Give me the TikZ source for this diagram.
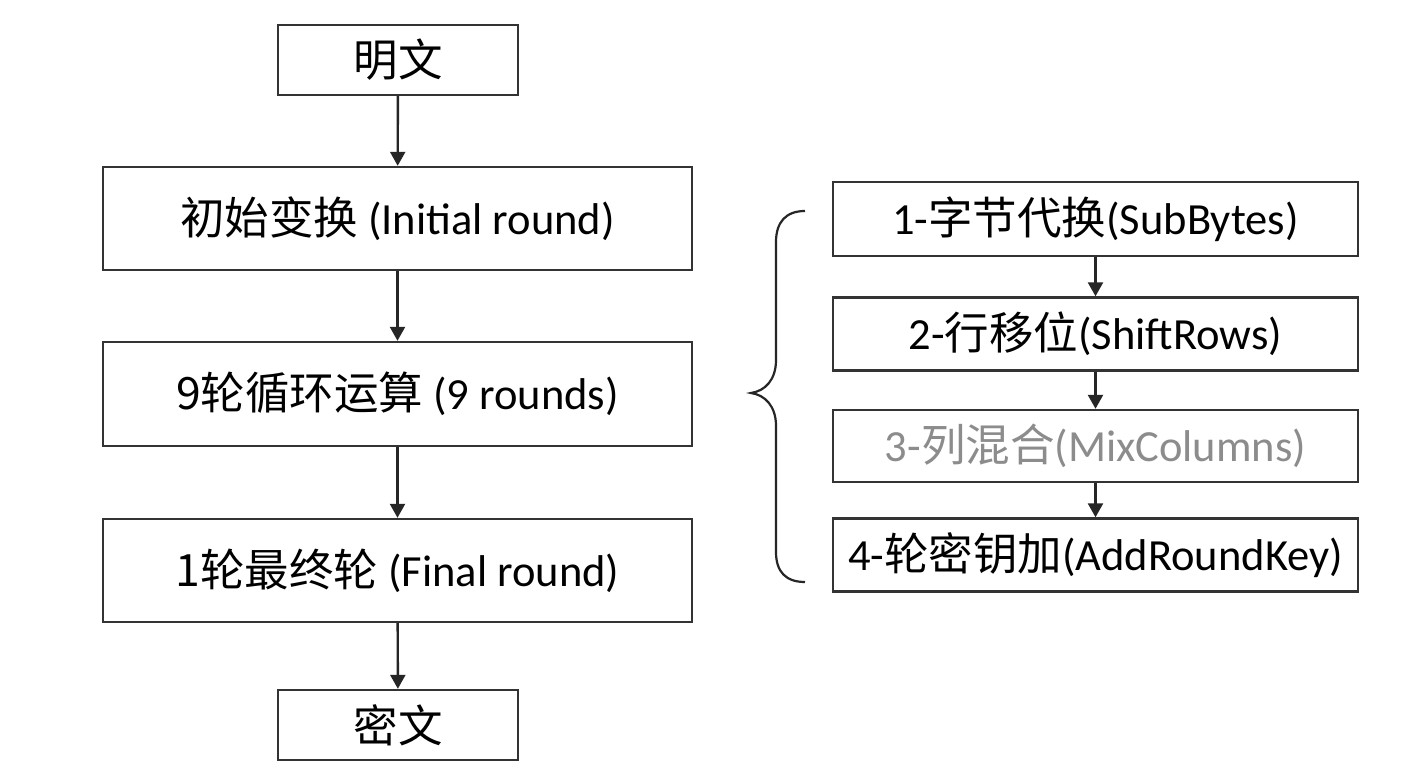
\documentclass[tikz,border=0pt]{standalone}
\usepackage{fontspec}
\setmainfont{Carlito}
\newfontfamily\cjk{Noto Sans CJK SC}
\usetikzlibrary{arrows.meta}
\begin{document}
\begin{tikzpicture}[x=1pt,y=-1pt,
  box/.style={draw=black!80,line width=2.4pt,inner sep=0pt,anchor=center},
  big/.style={font=\fontsize{44.5}{52}\selectfont},
  small/.style={font=\fontsize{44.5}{52}\selectfont},
  arr/.style={draw=black!85,line width=2.4pt,-{Triangle[width=15pt,length=14pt]}}]
\useasboundingbox (0,0) rectangle (1425,783);
\fill[white] (0,0) rectangle (1425,783);
% left column
\node[box,big,minimum width=240pt,minimum height=70pt] (p) at (398,60) {\cjk 明文};
\node[box,big,minimum width=589pt,minimum height=103pt] (init) at (397.5,218.5) {{\cjk 初始变换} (Initial round)};
\node[box,big,minimum width=589pt,minimum height=104pt] (nine) at (397.5,394) {{\cjk 9轮循环运算} (9 rounds)};
\node[box,big,minimum width=589pt,minimum height=103pt] (fin) at (397.5,570.5) {{\cjk 1轮最终轮} (Final round)};
\node[box,big,minimum width=240pt,minimum height=70pt] (c) at (398,725) {\cjk 密文};
\draw[arr] (p) -- (init);
\draw[arr] (init) -- (nine);
\draw[arr] (nine) -- (fin);
\draw[arr] (fin) -- (c);
% right column
\node[box,small,minimum width=525pt,minimum height=74pt] (s1) at (1095.5,219) {1-{\cjk 字节代换}(SubBytes)};
\node[box,small,minimum width=525pt,minimum height=73pt] (s2) at (1095.5,334) {2-{\cjk 行移位}(ShiftRows)};
\node[box,small,minimum width=525pt,minimum height=72pt,text=black!45] (s3) at (1095.5,446) {3-{\cjk 列混合}(MixColumns)};
\node[box,small,minimum width=525pt,minimum height=73pt] (s4) at (1095.5,555) {4-{\cjk 轮密钥加}(AddRoundKey)};
\draw[arr] (s1) -- (s2);
\draw[arr] (s2) -- (s3);
\draw[arr] (s3) -- (s4);
% brace
\coordinate (bt) at (805,211);
\coordinate (bm) at (751,393);
\coordinate (bb) at (805,582);
\draw[black!85,line width=2.2pt]
  (bt) .. controls (786,211) and (776,222) .. (776,242)
  -- (776,360) .. controls (776,380) and (765,391) .. (bm)
  .. controls (765,395) and (776,406) .. (776,426)
  -- (776,552) .. controls (776,572) and (786,582) .. (bb);
\end{tikzpicture}
\end{document}
